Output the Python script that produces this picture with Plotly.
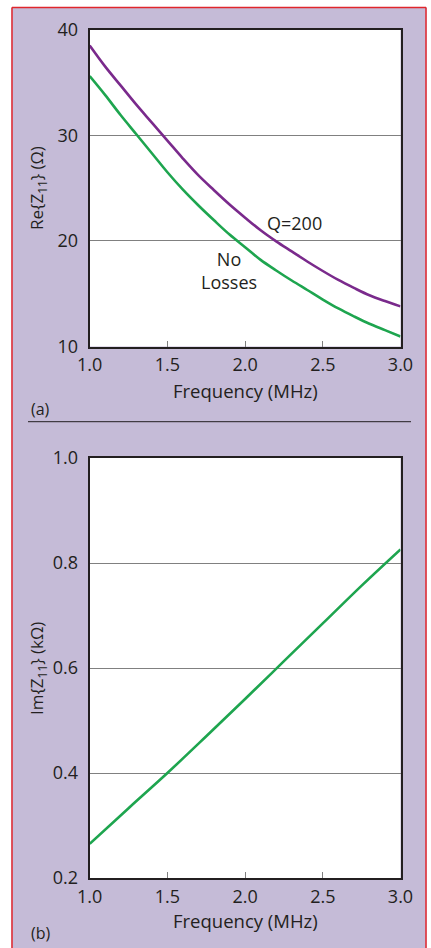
import plotly.graph_objects as go

# ---------------- data ----------------
freq_a = [1.0, 1.1, 1.2, 1.3, 1.4, 1.5, 1.6, 1.7, 1.8, 1.9, 2.0,
          2.1, 2.2, 2.3, 2.4, 2.5, 2.6, 2.7, 2.8, 2.9, 3.0]
re_q200 = [38.5, 36.5, 34.7, 32.9, 31.2, 29.5, 27.8, 26.2, 24.8, 23.45, 22.2,
           21.0, 19.95, 19.0, 18.05, 17.15, 16.3, 15.55, 14.85, 14.3, 13.8]
re_noloss = [35.6, 33.8, 31.9, 30.1, 28.3, 26.5, 24.85, 23.35, 21.95, 20.6, 19.4,
             18.2, 17.2, 16.25, 15.35, 14.45, 13.6, 12.85, 12.15, 11.55, 10.95]

freq_b = [1.0, 1.25, 1.5, 1.75, 2.0, 2.25, 2.5, 2.75, 3.0]
im_z11 = [0.265, 0.333, 0.400, 0.470, 0.541, 0.613, 0.685, 0.757, 0.826]

x_ticks = [1.0, 1.5, 2.0, 2.5, 3.0]
x_ticktext = ["1.0", "1.5", "2.0", "2.5", "3.0"]
ya_ticks = [10, 20, 30, 40]
yb_ticks = [0.2, 0.4, 0.6, 0.8, 1.0]
yb_ticktext = ["0.2", "0.4", "0.6", "0.8", "1.0"]

# ---------------- style ----------------
W, H = 431, 948
PURPLE_BG = "#c5bbd7"
RED = "#e0262c"
C_Q = "#7a2a8c"
C_G = "#1ea54f"
TXT = "#231f20"
GRID = "#808080"
FONT = "Open Sans"


def px(x):
    return x / W


def py(y):
    return 1 - y / H


fig = go.Figure()
fig.add_trace(go.Scatter(x=freq_a, y=re_q200, mode="lines", line=dict(color=C_Q, width=2.6, shape="spline"),
                         xaxis="x", yaxis="y", showlegend=False))
fig.add_trace(go.Scatter(x=freq_a, y=re_noloss, mode="lines", line=dict(color=C_G, width=2.6, shape="spline"),
                         xaxis="x", yaxis="y", showlegend=False))
fig.add_trace(go.Scatter(x=freq_b, y=im_z11, mode="lines", line=dict(color=C_G, width=2.6, shape="spline"),
                         xaxis="x2", yaxis="y2", showlegend=False))

xdom = [px(89.7), px(400.5)]
common_x = dict(range=[1.0, 3.0], tickvals=x_ticks, ticktext=x_ticktext, showgrid=False, zeroline=False,
                showline=True, linecolor=TXT, linewidth=2, mirror=True, ticks="inside", ticklen=6,
                tickcolor=GRID, tickwidth=1.2, tickfont=dict(family=FONT, size=18, color=TXT),
                ticklabelstandoff=1, fixedrange=True, automargin=False)
common_y = dict(showgrid=True, gridcolor=GRID, gridwidth=1.2, zeroline=False, showline=True, linecolor=TXT,
                linewidth=2, mirror=True, ticks="", tickfont=dict(family=FONT, size=18, color=TXT),
                ticklabelstandoff=6, fixedrange=True, automargin=False)

fig.update_layout(
    width=W, height=H,
    margin=dict(l=0, r=0, t=0, b=0, pad=0, autoexpand=False),
    paper_bgcolor=PURPLE_BG,
    plot_bgcolor="white",
    xaxis=dict(domain=xdom, anchor="y", **common_x),
    yaxis=dict(domain=[py(346.5), py(29.7)], anchor="x", range=[10, 40], tickvals=ya_ticks, **common_y),
    xaxis2=dict(domain=xdom, anchor="y2", **common_x),
    yaxis2=dict(domain=[py(878), py(458)], anchor="x2", range=[0.2, 1.0], tickvals=yb_ticks,
                ticktext=yb_ticktext, **common_y),
)

ann_font = dict(family=FONT, size=18, color=TXT)
title_font = dict(family=FONT, size=18.5, color=TXT)
annotations = [
    dict(text="Q=200", x=2.315, y=21.7, xref="x", yref="y", font=ann_font),
    dict(text="No<br>Losses", x=1.898, y=17.15, xref="x", yref="y", font=ann_font),
    dict(text="Frequency (MHz)", x=px(245.5), y=py(390), xref="paper", yref="paper", font=title_font),
    dict(text="Frequency (MHz)", x=px(245.5), y=py(920), xref="paper", yref="paper", font=title_font),
    dict(text="Re{Z<sub>11</sub>} (Ω)", x=px(37), y=py(188), xref="paper", yref="paper",
         textangle=-90, font=dict(family=FONT, size=17, color=TXT)),
    dict(text="Im{Z<sub>11</sub>} (kΩ)", x=px(37), y=py(669), xref="paper", yref="paper",
         textangle=-90, font=dict(family=FONT, size=17, color=TXT)),
    dict(text="(a)", x=px(29), y=py(409), xref="paper", yref="paper", xanchor="left",
         font=dict(family=FONT, size=16, color=TXT)),
    dict(text="(b)", x=px(29), y=py(933), xref="paper", yref="paper", xanchor="left",
         font=dict(family=FONT, size=16, color=TXT)),
]
for a in annotations:
    a["showarrow"] = False
    a.setdefault("xanchor", "center")
    a["yanchor"] = "middle"
fig.update_layout(annotations=annotations)

shapes = [
    # white surround outside red frame
    dict(type="rect", xref="paper", yref="paper", x0=0, x1=px(11.5), y0=0, y1=1, fillcolor="white",
         line=dict(width=0), layer="below"),
    dict(type="rect", xref="paper", yref="paper", x0=px(426.5), x1=1, y0=0, y1=1, fillcolor="white",
         line=dict(width=0), layer="below"),
    dict(type="rect", xref="paper", yref="paper", x0=0, x1=1, y0=py(7), y1=1, fillcolor="white",
         line=dict(width=0), layer="below"),
    # red frame
    dict(type="line", xref="paper", yref="paper", x0=px(12), x1=px(12), y0=0, y1=py(7.5),
         line=dict(color=RED, width=1.5)),
    dict(type="line", xref="paper", yref="paper", x0=px(426), x1=px(426), y0=0, y1=py(7.5),
         line=dict(color=RED, width=1.5)),
    dict(type="line", xref="paper", yref="paper", x0=px(12), x1=px(426), y0=py(7.5), y1=py(7.5),
         line=dict(color=RED, width=1.5)),
    # separator
    dict(type="line", xref="paper", yref="paper", x0=px(28), x1=px(411), y0=py(421.7), y1=py(421.7),
         line=dict(color=TXT, width=1)),
]
fig.update_layout(shapes=shapes)

fig.write_html("out.html", config={"displayModeBar": False},
               post_script="document.body.style.margin='0px';")
